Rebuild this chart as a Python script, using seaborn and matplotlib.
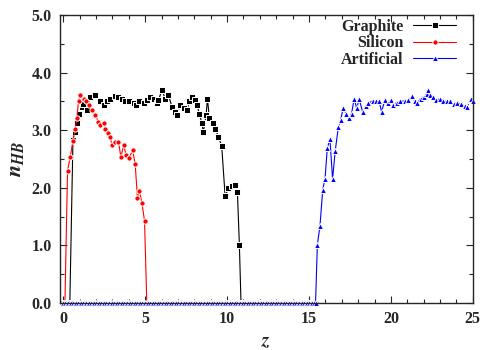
import numpy as np
import pandas as pd
import matplotlib
matplotlib.use("Agg")
import matplotlib.pyplot as plt
from matplotlib.ticker import MultipleLocator, FormatStrFormatter
import seaborn as sns

# Graphite: non-zero part
graphite_z = [0.59, 0.69, 0.83, 0.99, 1.12, 1.22, 1.44, 1.65, 1.95, 2.26, 2.46, 2.66, 2.87,
              3.17, 3.37, 3.58, 3.78, 4.04, 4.29, 4.45, 4.65, 4.90, 5.10, 5.30, 5.51, 5.71,
              5.81, 6.02, 6.22, 6.42, 6.63, 6.83, 6.93, 7.13, 7.34, 7.54, 7.70, 7.85, 8.05,
              8.15, 8.31, 8.46, 8.55, 8.72, 8.80, 8.92, 9.13, 9.27, 9.47, 9.67, 9.88, 10.08,
              10.29, 10.49, 10.63, 10.75]
graphite_n = [2.83, 2.97, 3.13, 3.29, 3.40, 3.45, 3.35, 3.58, 3.61, 3.50, 3.44, 3.51, 3.55,
              3.59, 3.58, 3.54, 3.51, 3.50, 3.47, 3.44, 3.50, 3.47, 3.52, 3.58, 3.55, 3.47,
              3.52, 3.70, 3.55, 3.61, 3.41, 3.32, 3.26, 3.44, 3.38, 3.35, 3.50, 3.58, 3.52,
              3.44, 3.29, 3.12, 2.97, 3.26, 3.55, 3.21, 3.12, 3.03, 2.89, 2.73, 1.86, 1.99,
              2.03, 2.05, 1.93, 1.01]

# Silicon: non-zero part
silicon_z = [0.26, 0.43, 0.59, 0.73, 0.83, 0.93, 1.04, 1.24, 1.40, 1.55, 1.75, 1.95, 2.15,
             2.26, 2.46, 2.56, 2.76, 2.87, 2.97, 3.17, 3.37, 3.52, 3.68, 3.84, 4.02, 4.23,
             4.39, 4.53, 4.65, 4.80, 4.96]
silicon_n = [2.30, 2.54, 2.82, 3.03, 3.21, 3.51, 3.61, 3.55, 3.50, 3.44, 3.35, 3.26, 3.15,
             3.09, 3.12, 3.03, 2.95, 2.89, 2.74, 2.79, 2.80, 2.53, 2.74, 2.57, 2.51, 2.66,
             2.41, 1.82, 1.95, 1.74, 1.43]

# Artificial: non-zero part
artificial_z = [15.51, 15.67, 15.84, 15.98, 16.12, 16.28, 16.44, 16.60, 16.79, 16.93, 17.09,
                17.26, 17.46, 17.60, 17.76, 17.91, 18.07, 18.27, 18.48, 18.62, 18.89, 19.09,
                19.29, 19.43, 19.63, 19.84, 19.98, 20.14, 20.35, 20.55, 20.85, 21.06, 21.30,
                21.46, 21.60, 21.81, 22.01, 22.18, 22.28, 22.38, 22.58, 22.78, 22.99, 23.19,
                23.40, 23.60, 23.84, 24.04, 24.31, 24.51, 24.65, 24.82, 24.91, 25.00]
artificial_n = [1.01, 1.34, 1.97, 2.16, 2.70, 2.84, 2.15, 2.64, 3.05, 3.18, 3.38, 3.29, 3.21,
                3.29, 3.55, 3.38, 3.54, 3.32, 3.42, 3.47, 3.51, 3.50, 3.50, 3.32, 3.52, 3.48,
                3.52, 3.44, 3.48, 3.50, 3.51, 3.52, 3.59, 3.50, 3.47, 3.55, 3.58, 3.63, 3.70,
                3.61, 3.57, 3.52, 3.55, 3.51, 3.50, 3.51, 3.45, 3.48, 3.45, 3.42, 3.40, 3.52,
                3.55, 3.50]

# stretches where n_HB sits flat at zero: (start, stop), sampled every zero_step
zero_step = 0.1
graphite_zero = [(0.0, 0.45), (10.85, 15.45)]
silicon_zero = [(0.0, 0.15), (5.10, 15.45)]
artificial_zero = [(0.0, 15.45)]


def build(name, z, n, zeros):
    parts = [pd.DataFrame({"z": z, "n": n})]
    for a, b in zeros:
        zz = np.arange(a, b, zero_step)
        parts.append(pd.DataFrame({"z": zz, "n": np.zeros_like(zz)}))
    df = pd.concat(parts).sort_values("z")
    df["material"] = name
    return df


data = pd.concat([
    build("Graphite", graphite_z, graphite_n, graphite_zero),
    build("Silicon", silicon_z, silicon_n, silicon_zero),
    build("Artificial", artificial_z, artificial_n, artificial_zero),
])

sns.set_style("ticks")
plt.rcParams["font.family"] = ["Liberation Serif", "DejaVu Serif"]
plt.rcParams["font.weight"] = "bold"
plt.rcParams["mathtext.fontset"] = "stix"

fig, ax = plt.subplots(figsize=(4.8, 3.5), dpi=100)
fig.subplots_adjust(left=0.125, right=0.985, top=0.957, bottom=0.134)

styles = {"Graphite": ("black", "s", 3.8),
          "Silicon": ("#ff0000", "o", 3.8),
          "Artificial": ("#0000ff", "^", 4.4)}
for name, (color, marker, ms) in styles.items():
    sub = data[data["material"] == name]
    sns.lineplot(data=sub, x="z", y="n", ax=ax, color=color, marker=marker,
                 markersize=ms, markeredgewidth=0.7, linewidth=0.8,
                 estimator=None, sort=False, label=name, clip_on=False)

ax.set_xlim(-0.2, 25)
ax.set_ylim(0, 5)
ax.xaxis.set_major_locator(MultipleLocator(5))
ax.xaxis.set_minor_locator(MultipleLocator(1))
ax.yaxis.set_major_locator(MultipleLocator(1))
ax.yaxis.set_minor_locator(MultipleLocator(0.5))
ax.yaxis.set_major_formatter(FormatStrFormatter("%.1f"))
ax.tick_params(which="both", direction="in", top=True, right=True, width=0.8)
ax.tick_params(which="major", length=5, labelsize=11.5, pad=6)
ax.tick_params(which="minor", length=3)
for sp in ax.spines.values():
    sp.set_linewidth(1.0)

ax.set_xlabel("$z$", fontsize=14, labelpad=4, fontweight="normal")
ax.set_ylabel("$n_{HB}$", fontsize=16, labelpad=4, fontweight="normal")

leg = ax.legend(loc="upper right", bbox_to_anchor=(0.966, 0.995), frameon=False,
                markerfirst=False, prop={"weight": "bold", "size": 11.5},
                handlelength=2.7, labelspacing=0.02, borderaxespad=0.0,
                borderpad=0.15, handletextpad=0.6)
for t in leg.get_texts():
    t.set_ha("right")

fig.savefig("out.png", dpi=100)
